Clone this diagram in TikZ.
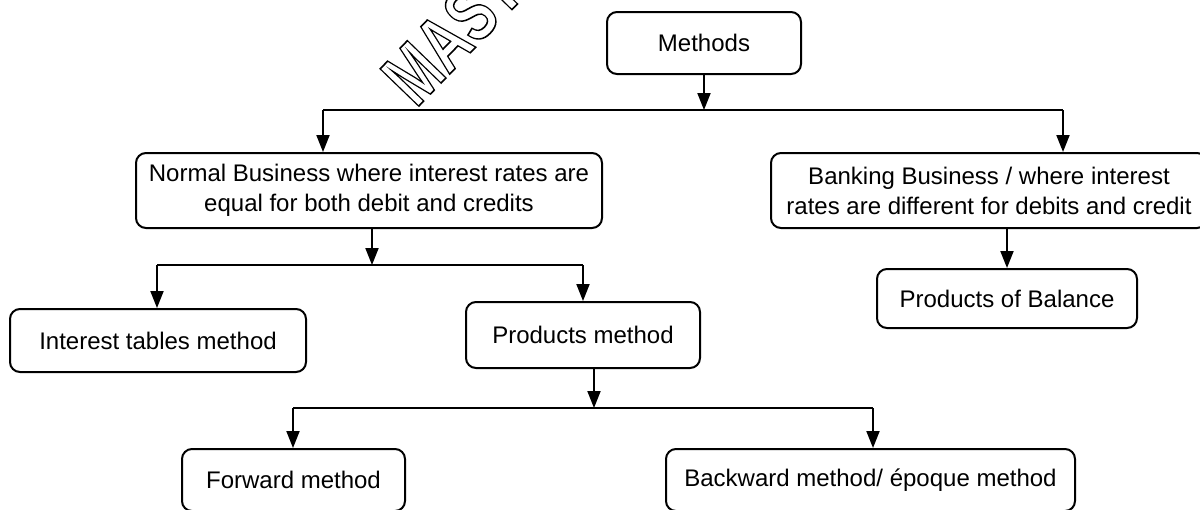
\documentclass[tikz,border=0pt]{standalone}
\usepackage{fontspec}
\setmainfont{Liberation Sans}
\usetikzlibrary{arrows.meta}
% stroked (hollow) lettering through the PDF text render mode
\newcommand\hollowtext[1]{\special{pdf:code q 1 Tr 1.6 w}#1\special{pdf:code Q}}
\begin{document}
\begin{tikzpicture}[x=1pt,y=-1pt,
  box/.style={draw, line width=2pt, rounded corners=10pt, align=center,
    font=\fontsize{24}{30}\selectfont, inner sep=0pt},
  arr/.style={line width=2pt, -{Triangle[length=17pt,width=13pt]}},
  link/.style={line width=2pt},
  mark text/.style={font=\fontsize{78}{78}\bfseries, inner sep=0pt, rotate=46, anchor=base west}]
\useasboundingbox (0,0) rectangle (1200,509);
\clip (0,0) rectangle (1200,509);

% hollow banner lettering
\node[mark text] (banner) at (416,109)
  {\scalebox{0.72}[1]{\hollowtext{MASTER}}};

% boxes
\node[box, minimum width=194pt, minimum height=62pt] (methods) at (704,43) {Methods};
\node[box, minimum width=466pt, minimum height=75pt] (normal) at (369,190.5)
  {Normal Business where interest rates are\\equal for both debit and credits};
\node[box, minimum width=436pt, minimum height=75pt] (banking) at (989,190.5)
  {Banking Business / where interest\\rates are different for debits and credit};
\node[box, minimum width=260pt, minimum height=59pt] (balance) at (1007,298.5) {Products of Balance};
\node[box, minimum width=296pt, minimum height=63pt] (tables) at (158,340.5) {Interest tables method};
\node[box, minimum width=234pt, minimum height=66pt] (products) at (583,335) {Products method};
\node[box, minimum width=223pt, minimum height=62pt] (forward) at (293.5,480) {Forward method};
\node[box, minimum width=409pt, minimum height=62pt] (backward) at (870.5,480) {Backward method/ époque method};

% junction points
\coordinate (j1) at (704,110);
\coordinate (j1l) at (323,110);
\coordinate (j1r) at (1063,110);
\coordinate (j2) at (372,265);
\coordinate (j2l) at (157,265);
\coordinate (j2r) at (583,265);
\coordinate (j3) at (594,408);
\coordinate (j3l) at (293,408);
\coordinate (j3r) at (873,408);

% connectors
\draw[arr] (methods.south) -- (j1);
\draw[link] (j1l) -- (j1r);
\draw[arr] (j1l) -- (j1l |- normal.north);
\draw[arr] (j1r) -- (j1r |- banking.north);
\draw[arr] (banking.south -| balance.north) -- (balance.north);

\draw[arr] (j2 |- normal.south) -- (j2);
\draw[link] (j2l) -- (j2r);
\draw[arr] (j2l) -- (j2l |- tables.north);
\draw[arr] (j2r) -- (products.north);

\draw[arr] (j3 |- products.south) -- (j3);
\draw[link] (j3l) -- (j3r);
\draw[arr] (j3l) -- (j3l |- forward.north);
\draw[arr] (j3r) -- (j3r |- backward.north);
\end{tikzpicture}
\end{document}
